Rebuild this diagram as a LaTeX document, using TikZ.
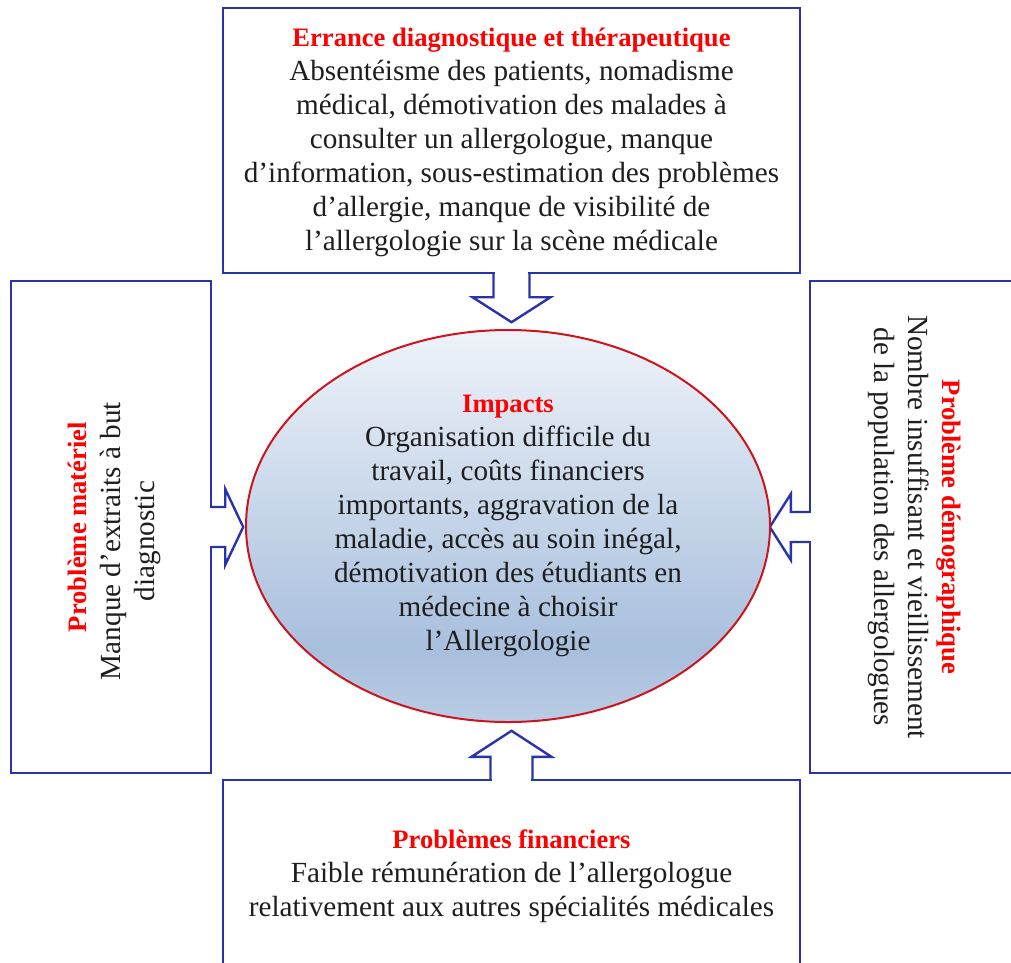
\documentclass[tikz,border=0pt]{standalone}
\usepackage{fontspec}
\setmainfont{Liberation Serif}
\usetikzlibrary{shapes.geometric,calc}
\definecolor{boxblue}{RGB}{40,52,168}
\definecolor{ellred}{RGB}{205,20,30}
\definecolor{titlered}{RGB}{255,0,0}
\definecolor{bodytext}{RGB}{30,30,30}
\definecolor{shA}{RGB}{186,204,228}
\definecolor{shB}{RGB}{168,191,221}
\definecolor{shC}{RGB}{238,243,249}
\pgfdeclareverticalshading{impactshade}{100bp}{color(0bp)=(shA); color(25bp)=(shA); color(34bp)=(shB); color(75bp)=(shC); color(100bp)=(shC)}
\newcommand\ttlline[1]{{\color{titlered}\bfseries\fontsize{26.6}{34}\selectfont #1}}
\begin{document}
\begin{tikzpicture}[x=1pt,y=-1pt,
  box/.style={draw=boxblue, line width=2.4pt, fill=white, rectangle, inner sep=0pt},
  txt/.style={align=center, text=bodytext, font=\fontsize{29.2}{34}\selectfont, inner sep=0pt},
  blockarrow/.style={draw=boxblue, line width=2.4pt, fill=white, line join=miter},
  cutter/.style={fill=white}]
\useasboundingbox (0,0) rectangle (1011,962);
\clip (0,0) rectangle (1011,962);

% boxes
\node[box, minimum width=577pt, minimum height=265pt] (top) at (511.5,140.5) {};
\node[box, minimum width=200pt, minimum height=492pt] (left) at (111,527) {};
\node[box, minimum width=210pt, minimum height=492pt] (right) at (915,527) {};
\node[box, minimum width=577pt, minimum height=186pt] (bot) at (511.5,873) {};

% block arrows
\fill[cutter] ($(top.south)+(-16.8,-2)$) rectangle ($(top.south)+(16.8,2)$);
\path[blockarrow] ($(top.south)+(-18,0)$) -- ($(top.south)+(-18,23)$) -- ($(top.south)+(-39,23)$) -- ($(top.south)+(0,48)$) -- ($(top.south)+(39,23)$) -- ($(top.south)+(18,23)$) -- ($(top.south)+(18,0)$);

\fill[cutter] ($(bot.north)+(-19.8,-2)$) rectangle ($(bot.north)+(19.8,2)$);
\path[blockarrow] ($(bot.north)+(-21,0)$) -- ($(bot.north)+(-21,-22)$) -- ($(bot.north)+(-40,-22)$) -- ($(bot.north)+(0,-48)$) -- ($(bot.north)+(40,-22)$) -- ($(bot.north)+(21,-22)$) -- ($(bot.north)+(21,0)$);

\fill[cutter] ($(left.east)+(-2,-18.8)$) rectangle ($(left.east)+(2,18.8)$);
\path[blockarrow] ($(left.east)+(0,-20)$) -- ($(left.east)+(13,-20)$) -- ($(left.east)+(13,-38)$) -- ($(left.east)+(31,0)$) -- ($(left.east)+(13,38)$) -- ($(left.east)+(13,20)$) -- ($(left.east)+(0,20)$);

\fill[cutter] ($(right.west)+(-2,-13.8)$) rectangle ($(right.west)+(2,13.8)$);
\path[blockarrow] ($(right.west)+(0,-15)$) -- ($(right.west)+(-18,-15)$) -- ($(right.west)+(-18,-33)$) -- ($(right.west)+(-39,0)$) -- ($(right.west)+(-18,33)$) -- ($(right.west)+(-18,15)$) -- ($(right.west)+(0,15)$);

% central ellipse
\node[ellipse, draw=ellred, line width=2pt, shade, shading=impactshade, minimum width=524pt, minimum height=392pt, inner sep=0pt] (ell) at (508,526) {};

% texts
\node[txt] (toptxt) at (511.5,142) {\ttlline{Errance diagnostique et thérapeutique}\\
Absentéisme des patients, nomadisme\\
médical, démotivation des malades à\\
consulter un allergologue, manque\\
d’information, sous-estimation des problèmes\\
d’allergie, manque de visibilité de\\
l’allergologie sur la scène médicale};

\node[txt] (elltxt) at (508,526) {\ttlline{Impacts}\\
Organisation difficile du\\
travail, coûts financiers\\
importants, aggravation de la\\
maladie, accès au soin inégal,\\
démotivation des étudiants en\\
médecine à choisir\\
l’Allergologie};

\node[txt, rotate=90] (lefttxt) at (114,527) {\ttlline{Problème matériel}\\
Manque d’extraits à but\rule{28pt}{0pt}\\
diagnostic\rule{28pt}{0pt}};

\node[txt, rotate=-90] (righttxt) at (914.5,527) {\ttlline{Problème démographique}\\
Nombre insuffisant et vieillissement\\
de la population des allergologues};

\node[txt] (bottxt) at (511.5,876) {\ttlline{Problèmes financiers}\\
Faible rémunération de l’allergologue\\
relativement aux autres spécialités médicales};
\end{tikzpicture}
\end{document}
